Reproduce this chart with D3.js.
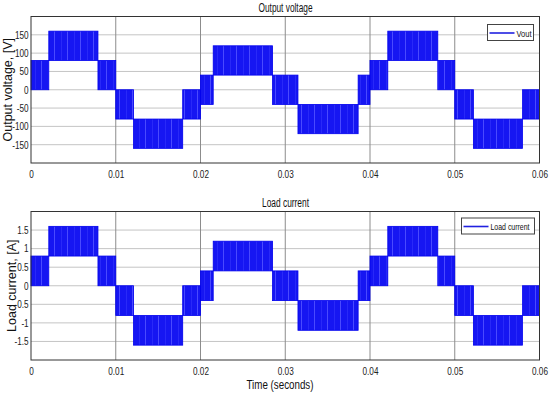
<!DOCTYPE html>
<html>
<head>
<meta charset="utf-8">
<script src="https://cdn.jsdelivr.net/npm/d3@7"></script>
<style>
  body { margin: 0; background: #fff; }
  svg { display: block; }
  .tick text { font-family: "Liberation Sans", Arial, sans-serif; font-size: 10.5px; fill: #222; }
  .title { font-family: "Liberation Sans", Arial, sans-serif; font-size: 12px; fill: #111; }
  .ylab { font-family: "Liberation Sans", Arial, sans-serif; font-size: 12.5px; fill: #111; }
  .leg { font-family: "Liberation Sans", Arial, sans-serif; font-size: 9.5px; fill: #111; }
</style>
</head>
<body>
<svg id="chart"></svg>
<script>
/**
 * Data
 */
const segStart = [0, 0.0021, 0.0079, 0.01, 0.0121, 0.0179, 0.02, 0.0215, 0.0285, 0.0315, 0.0386, 0.04, 0.0421, 0.0480, 0.05, 0.0522, 0.0580];
const tEnd = 0.06;
const voltLow  = [0, 80, 0, -80, -160, -80, -40, 40, -40, -120, -40, 0, 80, 0, -80, -160, -80];
const voltHigh = [80, 160, 80, 0, -80, 0, 40, 120, 40, -40, 40, 80, 160, 80, 0, -80, 0];
const curLow   = [0, 0.8, 0, -0.8, -1.6, -0.8, -0.4, 0.4, -0.4, -1.2, -0.4, 0, 0.8, 0, -0.8, -1.6, -0.8];
const curHigh  = [0.8, 1.6, 0.8, 0, -0.8, 0, 0.4, 1.2, 0.4, -0.4, 0.4, 0.8, 1.6, 0.8, 0, -0.8, 0];

const xTicks = [0, 0.01, 0.02, 0.03, 0.04, 0.05, 0.06];
const xTickLabels = ["0", "0.01", "0.02", "0.03", "0.04", "0.05", "0.06"];
const voltTicks = [150, 100, 50, 0, -50, -100, -150];
const voltTickLabels = ["150", "100", "50", "0", "-50", "-100", "-150"];
const curTicks = [1.5, 1, 0.5, 0, -0.5, -1, -1.5];
const curTickLabels = ["1.5", "1", "0.5", "0", "-0.5", "-1", "-1.5"];

/**
 * Layout
 */
const width = 550;
const height = 396;
const left = 31, right = 539.5;

const svg = d3.select("#chart").attr("width", width).attr("height", height);

// stripe texture for the dense switching
const defs = svg.append("defs");
const pat = defs.append("pattern")
  .attr("id", "pwm")
  .attr("patternUnits", "userSpaceOnUse")
  .attr("width", 13).attr("height", 10);
pat.append("rect").attr("width", 13).attr("height", 10).attr("fill", "#1616f2");
pat.append("rect").attr("x", 2).attr("width", 1).attr("height", 10).attr("fill", "#4a4aff");
pat.append("rect").attr("x", 9).attr("width", 0.6).attr("height", 10).attr("fill", "#3535fc");

const x = d3.scaleLinear().domain([0, 0.06]).range([left, right]);

function narrow(sel) {
  // condensed look for tick labels
  sel.selectAll(".tick text").attr("transform", "scale(0.78,1)");
}

function drawPanel(opt) {
  const y = d3.scaleLinear().domain(opt.domain).range([opt.bottom, opt.top]);
  const g = svg.append("g");

  // horizontal grid
  g.append("g")
    .selectAll("line")
    .data(opt.ticks)
    .join("line")
      .attr("x1", left).attr("x2", right)
      .attr("y1", d => y(d)).attr("y2", d => y(d))
      .attr("stroke", "#c4c4c4").attr("stroke-width", 1);

  // vertical grid
  g.append("g")
    .selectAll("line")
    .data(xTicks.slice(1, -1))
    .join("line")
      .attr("x1", d => x(d)).attr("x2", d => x(d))
      .attr("y1", opt.top).attr("y2", opt.bottom)
      .attr("stroke", "#8c8c8c").attr("stroke-width", 1);

  // waveform bands
  const segs = segStart.map((t, i) => ({
    t0: t,
    t1: i < segStart.length - 1 ? segStart[i + 1] : tEnd,
    lo: opt.low[i],
    hi: opt.high[i]
  }));
  g.append("g")
    .selectAll("rect")
    .data(segs)
    .join("rect")
      .attr("x", d => x(d.t0))
      .attr("width", d => x(d.t1) - x(d.t0))
      .attr("y", d => y(d.hi))
      .attr("height", d => y(d.lo) - y(d.hi))
      .attr("fill", "url(#pwm)")
      .attr("stroke", "#0000ee")
      .attr("stroke-width", 0.8);

  // frame
  g.append("rect")
    .attr("x", left).attr("y", opt.top)
    .attr("width", right - left).attr("height", opt.bottom - opt.top)
    .attr("fill", "none").attr("stroke", "#333").attr("stroke-width", 1);

  // axes
  const xAxis = d3.axisBottom(x).tickValues(xTicks)
    .tickFormat((d, i) => xTickLabels[i]).tickSize(0).tickPadding(8);
  g.append("g").attr("transform", "translate(0," + opt.bottom + ")").call(xAxis)
    .call(a => a.select(".domain").remove())
    .call(narrow);

  const yAxis = d3.axisLeft(y).tickValues(opt.ticks)
    .tickFormat((d, i) => opt.tickLabels[i]).tickSize(0).tickPadding(3);
  g.append("g").attr("transform", "translate(" + left + ",0)").call(yAxis)
    .call(a => a.select(".domain").remove())
    .call(narrow);

  // title
  svg.append("text").attr("class", "title")
    .attr("x", 285.5).attr("y", opt.top - 5)
    .attr("text-anchor", "middle")
    .attr("textLength", opt.titleLen).attr("lengthAdjust", "spacingAndGlyphs")
    .text(opt.title);

  // y label
  svg.append("text").attr("class", "ylab")
    .attr("transform", "translate(" + opt.ylabX + "," + ((opt.top + opt.bottom) / 2) + ") rotate(-90)")
    .attr("text-anchor", "middle").text(opt.ylabel);

  // legend
  const lg = svg.append("g").attr("transform", "translate(" + opt.legX + "," + opt.legY + ")");
  lg.append("rect").attr("width", opt.legW).attr("height", 16)
    .attr("fill", "#fff").attr("stroke", "#444").attr("stroke-width", 1);
  lg.append("line").attr("x1", 2).attr("x2", 27).attr("y1", 8.5).attr("y2", 8.5)
    .attr("stroke", "#2020e0").attr("stroke-width", 1.6);
  lg.append("text").attr("class", "leg").attr("x", 29).attr("y", 12)
    .attr("textLength", opt.legLen).attr("lengthAdjust", "spacingAndGlyphs")
    .text(opt.legend);
}

drawPanel({
  domain: [-200, 200], top: 16.5, bottom: 163,
  ticks: voltTicks, tickLabels: voltTickLabels,
  low: voltLow, high: voltHigh,
  title: "Output voltage", titleLen: 54, ylabel: "Output voltage, [V]", ylabX: 11.5,
  legend: "Vout", legLen: 15, legX: 487.5, legY: 24.5, legW: 46
});

drawPanel({
  domain: [-2, 2], top: 211.5, bottom: 360,
  ticks: curTicks, tickLabels: curTickLabels,
  low: curLow, high: curHigh,
  title: "Load current", titleLen: 47, ylabel: "Load current, [A]", ylabX: 16,
  legend: "Load current", legLen: 39, legX: 461.5, legY: 218, legW: 73
});

svg.append("text").attr("class", "title")
  .style("font-size", "13px")
  .attr("x", 280).attr("y", 389)
  .attr("text-anchor", "middle")
  .attr("textLength", 67).attr("lengthAdjust", "spacingAndGlyphs")
  .text("Time (seconds)");
</script>
</body>
</html>
